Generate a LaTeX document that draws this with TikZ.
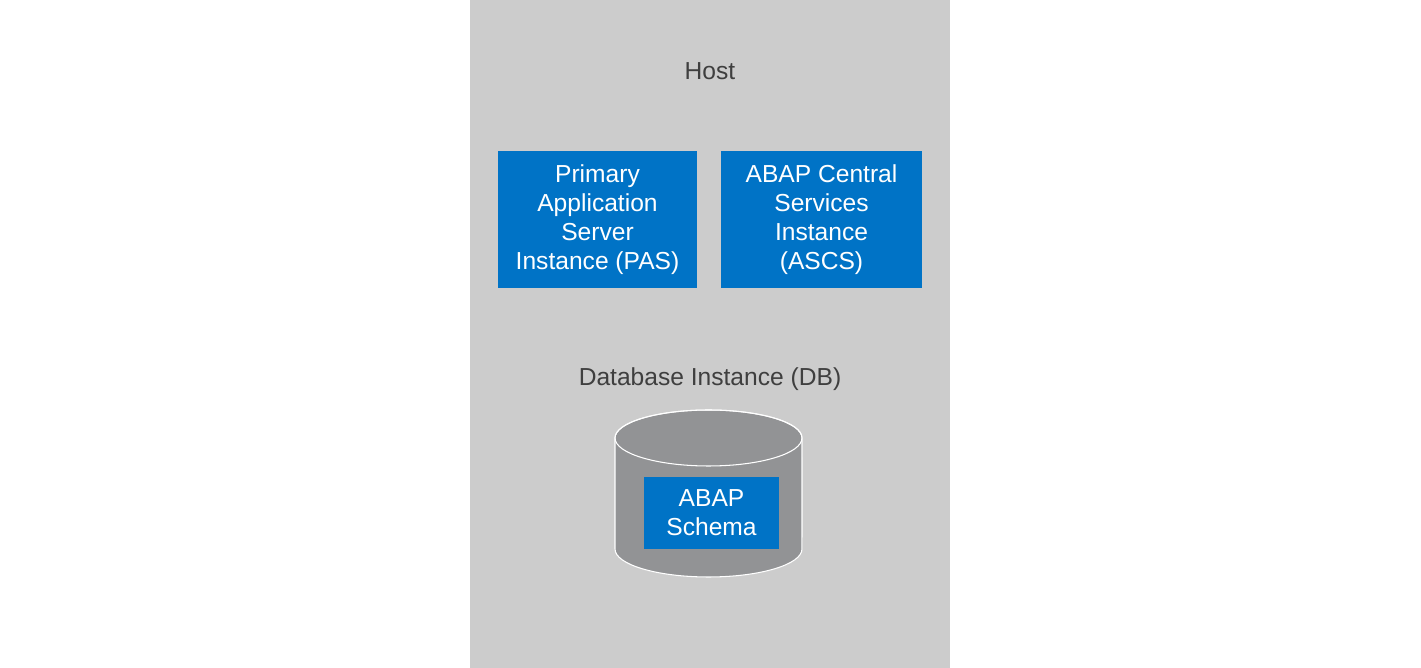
\documentclass[tikz,border=0pt]{standalone}
\usepackage{fontspec}
\setmainfont{Liberation Sans}
\definecolor{hostgray}{HTML}{CCCCCC}
\definecolor{dbgray}{HTML}{929395}
\definecolor{sapblue}{HTML}{0073C6}
\definecolor{labelgray}{HTML}{3F3F3F}

\tikzstyle{iS}=[rectangle,fill=sapblue,text=white,inner sep = 0pt,align=center,font=\fontsize{14}{16.5}\selectfont]
\tikzstyle{tS}=[inner sep = 0pt,text=labelgray,font=\fontsize{14}{16.5}\selectfont]

\begin{document}
\begin{tikzpicture}[x=0.02cm,y=-0.02cm]
                \useasboundingbox (0,0) rectangle (1421,668);
                \fill[white] (0,0) rectangle (1421,668);
                \fill[hostgray] (470,0) rectangle (950,668);
                \draw (710,71) node[tS] (host) {Host};
                \draw (597.5,219.5) node[iS,minimum width=3.98cm,minimum height=2.74cm] (pas) {Primary\\Application\\Server\\Instance (PAS)};
                \draw (821.5,219.5) node[iS,minimum width=4.02cm,minimum height=2.74cm] (ascs) {ABAP Central\\Services\\Instance\\(ASCS)};
                \draw (710,379.5) node[tS] (dbl) {Database Instance (DB)};
                % database cylinder
                \filldraw[fill=dbgray,draw=white,line width=0.6pt] (615,438) -- (615,549)
                    arc[start angle=180,end angle=360,x radius=1.87cm,y radius=0.56cm] -- (802,438)
                    arc[start angle=0,end angle=180,x radius=1.87cm,y radius=0.56cm] -- cycle;
                \draw[white,line width=0.6pt] (708.5,438) ellipse [x radius=1.87cm,y radius=0.56cm];
                \draw (711.5,513) node[iS,minimum width=2.7cm,minimum height=1.44cm] (schema) {ABAP\\Schema};
        \end{tikzpicture}
\end{document}
